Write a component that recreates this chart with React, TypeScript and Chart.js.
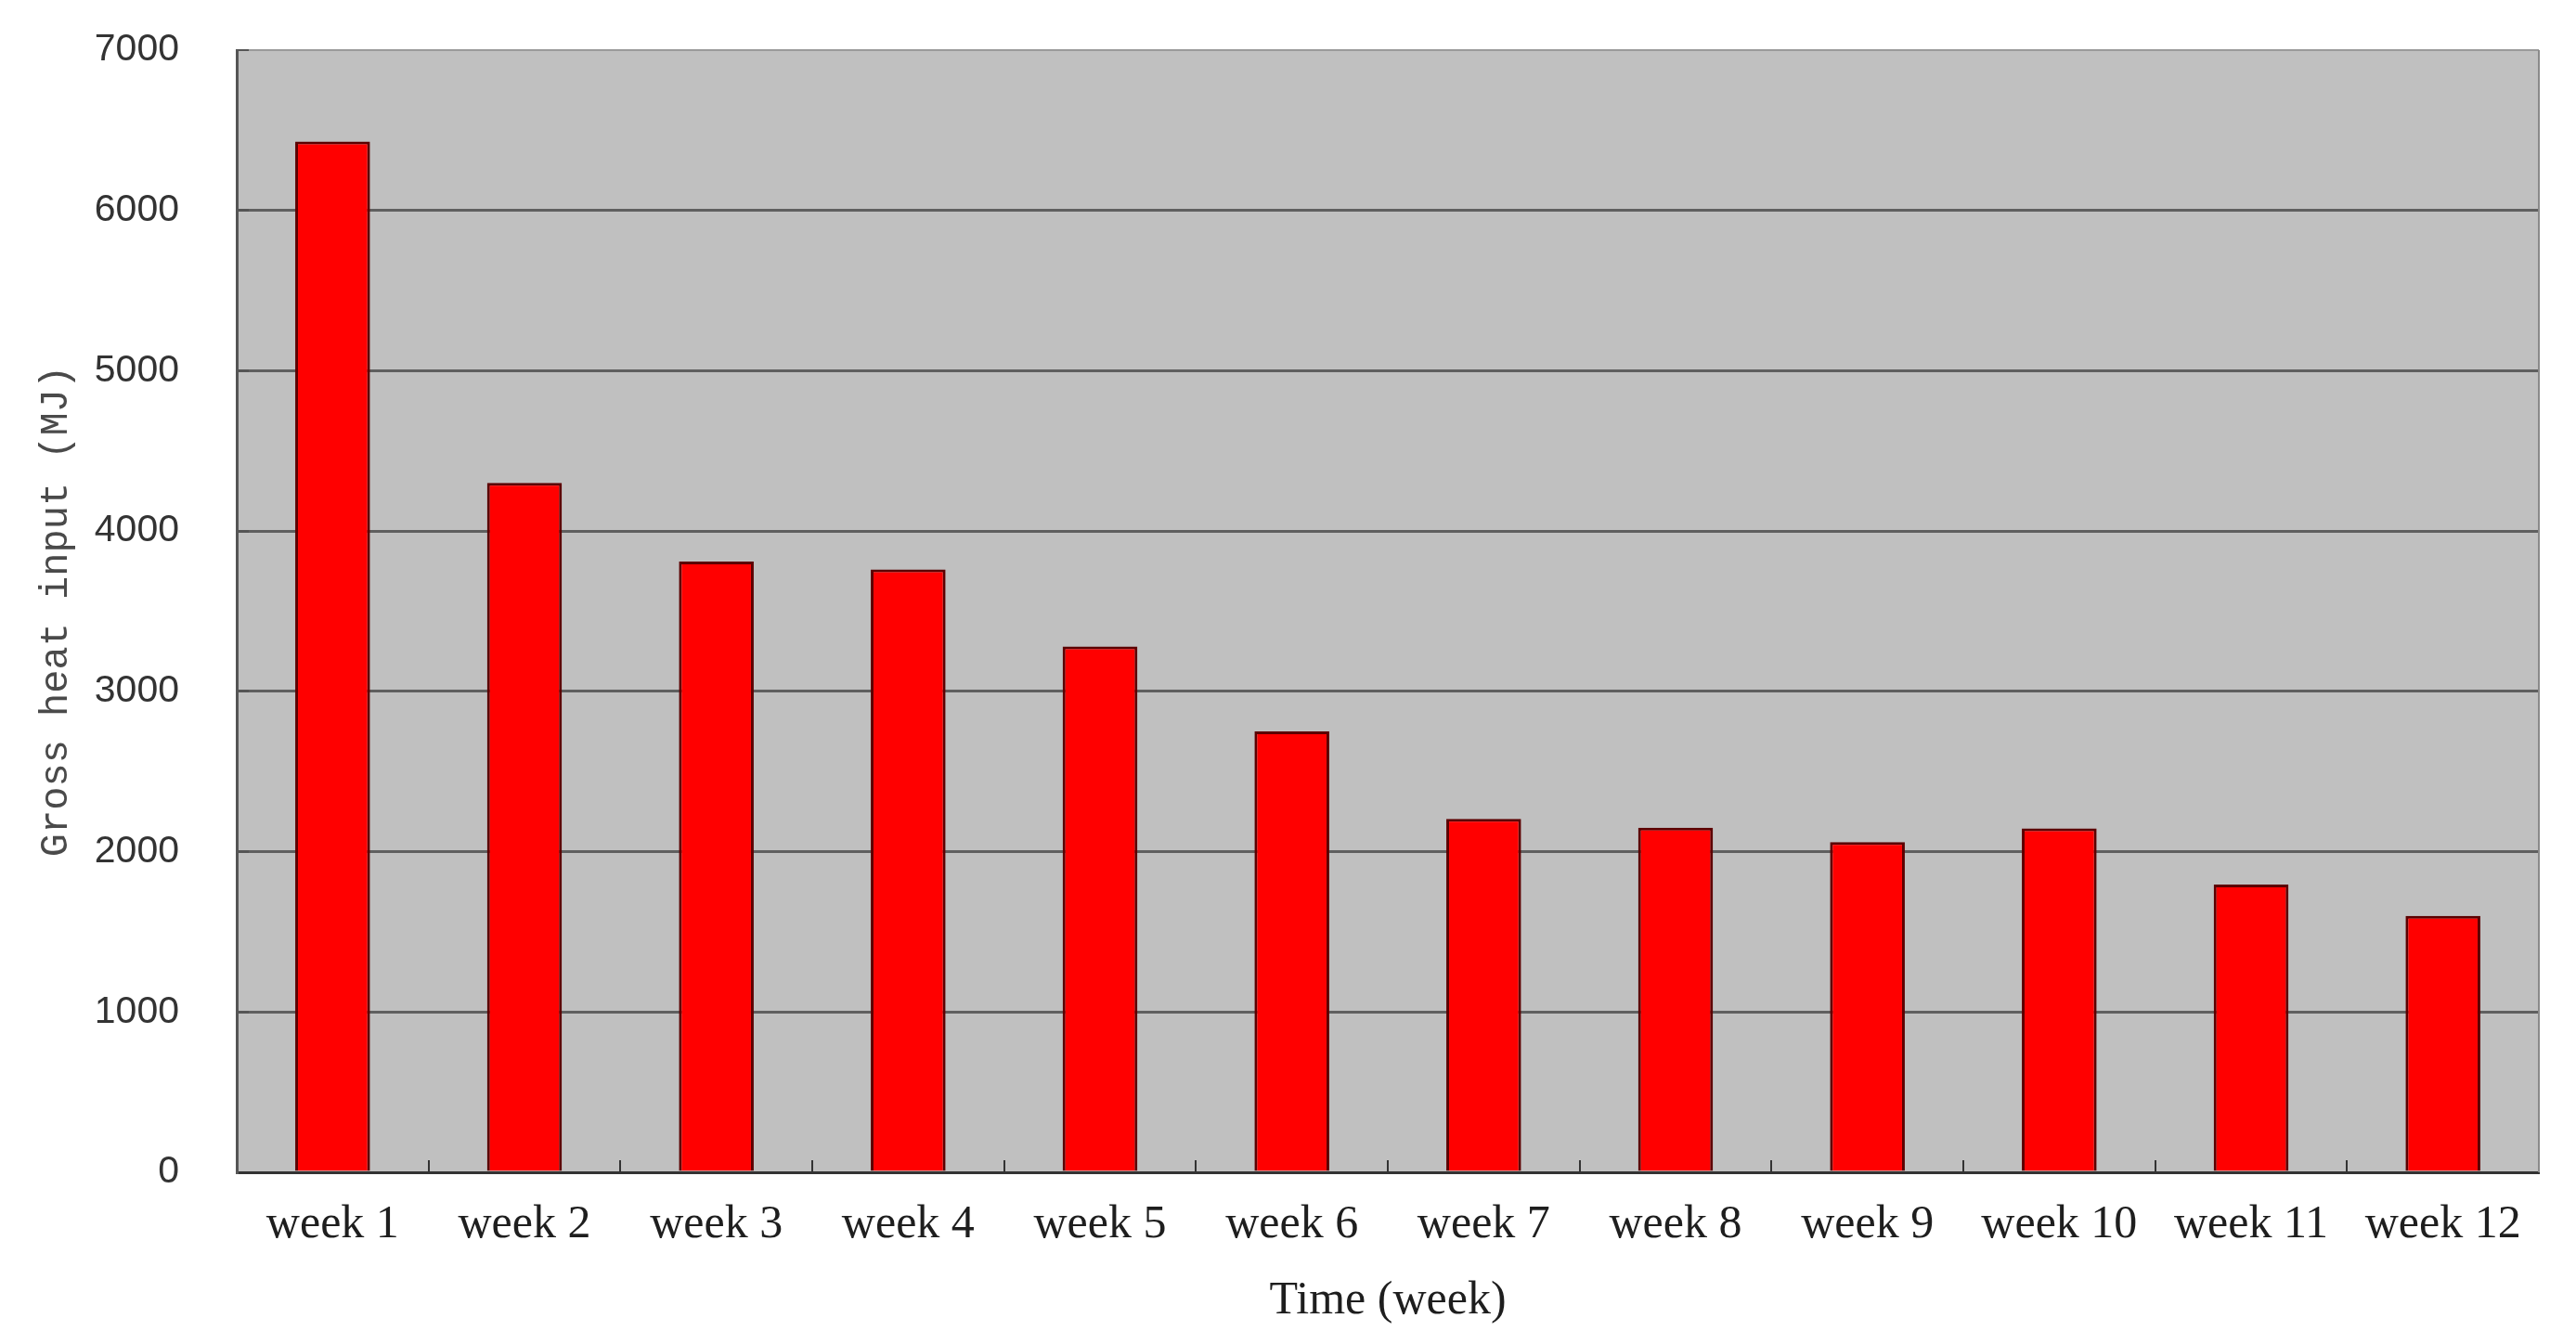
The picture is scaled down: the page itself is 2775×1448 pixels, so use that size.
import React, { useEffect, useRef } from "react";
import { Chart, registerables } from "chart.js";

Chart.register(...registerables);

const categories = [
  "week 1", "week 2", "week 3", "week 4", "week 5", "week 6",
  "week 7", "week 8", "week 9", "week 10", "week 11", "week 12",
];
const heatInput = [6430, 4300, 3810, 3760, 3280, 2750, 2205, 2150, 2060, 2145, 1795, 1600];
const yTicksMin = 0;
const yTicksMax = 7000;
const yTicksStep = 1000;
const xTitle = "Time (week)";
const yTitle = "Gross heat input (MJ)";

const W = 2775;
const H = 1448;

export default function App() {
  const ref = useRef<HTMLCanvasElement | null>(null);

  useEffect(() => {
    document.body.style.margin = "0";
    const canvas = ref.current;
    if (!canvas) return;

    const plotBg = {
      id: "plotBg",
      beforeDraw(chart: any) {
        const { ctx, chartArea } = chart;
        ctx.save();
        ctx.fillStyle = "#ffffff";
        ctx.fillRect(0, 0, chart.width, chart.height);
        ctx.fillStyle = "#c0c0c0";
        ctx.fillRect(chartArea.left, chartArea.top, chartArea.right - chartArea.left, chartArea.bottom - chartArea.top);
        ctx.restore();
      },
      afterDatasetsDraw(chart: any) {
        const { ctx, chartArea } = chart;
        ctx.save();
        ctx.strokeStyle = "#8a8a8a";
        ctx.lineWidth = 2;
        ctx.beginPath();
        ctx.moveTo(chartArea.right, chartArea.top);
        ctx.lineTo(chartArea.right, chartArea.bottom);
        ctx.stroke();
        ctx.restore();
      },
    };

    const chart = new Chart(canvas, {
      type: "bar",
      data: {
        labels: categories,
        datasets: [
          {
            data: heatInput,
            backgroundColor: "#ff0000",
            borderColor: "#5c0000",
            borderWidth: 3,
            categoryPercentage: 1,
            barPercentage: 0.39,
          },
        ],
      },
      plugins: [plotBg],
      options: {
        responsive: false,
        animation: false,
        layout: { padding: { left: 0, top: 54, right: 40, bottom: 0 } },
        plugins: {
          legend: { display: false },
          tooltip: { enabled: false },
        },
        scales: {
          x: {
            afterFit: (s: any) => {
              s.height = 185;
              s.paddingLeft = 0;
              s.paddingRight = 0;
            },
            grid: {
              display: true,
              drawOnChartArea: false,
              drawTicks: true,
              tickLength: -13,
              color: "#333333",
              lineWidth: 2,
              offset: true,
            },
            border: { display: true, color: "#333333", width: 3 },
            ticks: {
              color: "#1e1e1e",
              font: { family: "Liberation Serif", size: 50 },
              padding: 40,
              maxRotation: 0,
              autoSkip: false,
            },
            title: {
              display: true,
              text: xTitle,
              color: "#1e1e1e",
              font: { family: "Liberation Serif", size: 50 },
              padding: { top: 0, bottom: 16 },
            },
          },
          y: {
            min: yTicksMin,
            max: yTicksMax,
            afterFit: (s: any) => {
              s.width = 255;
              s.paddingTop = 0;
              s.paddingBottom = 0;
            },
            grid: {
              display: true,
              drawOnChartArea: true,
              drawTicks: true,
              tickLength: -13,
              color: (ctx: any) => (ctx.tick && ctx.tick.value === yTicksMax ? "#9a9a9a" : "#5f5f5f"),
              tickColor: "#555555",
              lineWidth: (ctx: any) => (ctx.tick && ctx.tick.value === yTicksMax ? 2 : 3),
            },
            border: { display: true, color: "#555555", width: 3 },
            ticks: {
              stepSize: yTicksStep,
              color: "#333333",
              font: { family: "Liberation Sans", size: 41 },
              padding: 75,
              callback: (v: any) => String(v),
            },
            title: {
              display: true,
              text: yTitle,
              color: "#4a4a4a",
              font: { family: "Liberation Mono", size: 42 },
              padding: { top: 36, bottom: 0 },
            },
          },
        },
      },
    });

    return () => {
      chart.destroy();
    };
  }, []);

  return (
    <canvas
      ref={ref}
      width={W}
      height={H}
      style={{ position: "fixed", left: 0, top: 0, display: "block", width: W + "px", height: H + "px" }}
    />
  );
}
